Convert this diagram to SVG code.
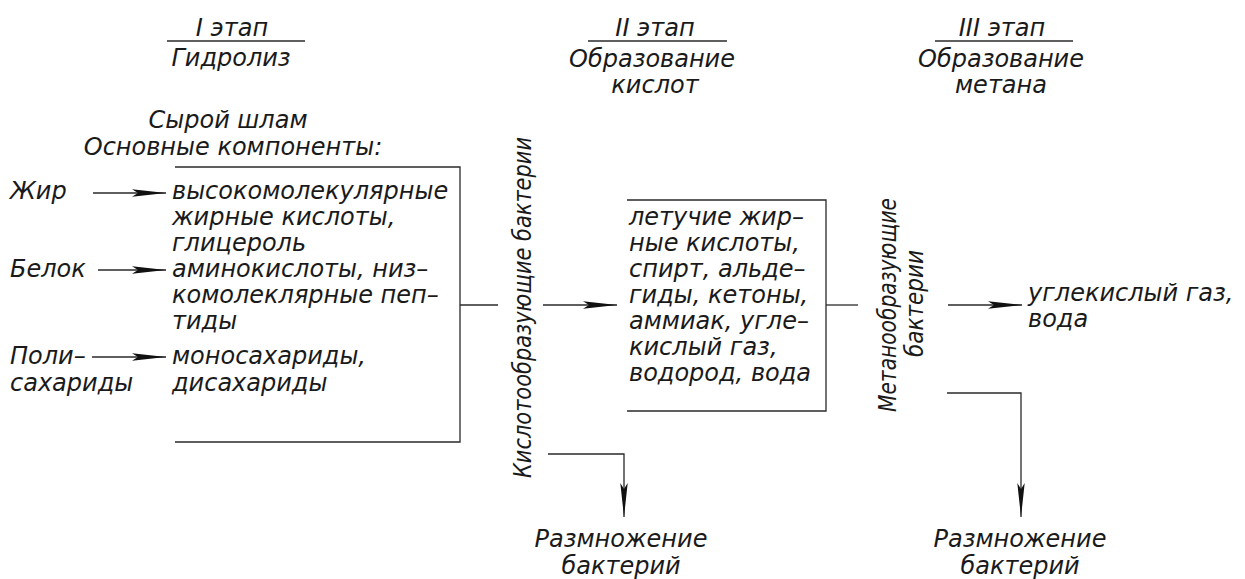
<svg xmlns="http://www.w3.org/2000/svg" width="1245" height="579" viewBox="0 0 1245 579">
<style>
text{font-family:"DejaVu Sans","Liberation Sans",sans-serif;font-style:italic;font-size:24px;fill:#1a1a1a}
.c{text-anchor:middle}
.ln{fill:none;stroke:#2a2a2a;stroke-width:1.3}
</style>
<defs>
<marker id="ah" viewBox="0 0 34 9" refX="34" refY="4.5" markerWidth="34" markerHeight="9" orient="auto" markerUnits="userSpaceOnUse">
<path d="M0,0.8 L34,4.5 L0,8.2 L6,4.5 Z" fill="#111"/>
</marker>
</defs>
<rect width="1245" height="579" fill="#fff"/>

<g id="stage1-header">
<text class="c" x="232" y="36">I этап</text>
<line class="ln" x1="167" y1="41" x2="305" y2="41"/>
<text class="c" x="231" y="66">Гидролиз</text>
</g>
<g id="stage2-header">
<text class="c" x="655" y="36">II этап</text>
<line class="ln" x1="588" y1="41" x2="727" y2="41"/>
<text class="c" x="652" y="67">Образование</text>
<text class="c" x="655" y="93">кислот</text>
</g>
<g id="stage3-header">
<text class="c" x="1002" y="36">III этап</text>
<line class="ln" x1="935" y1="41" x2="1073" y2="41"/>
<text class="c" x="1001" y="67">Образование</text>
<text class="c" x="1001" y="93">метана</text>
</g>

<g id="raw-sludge">
<text class="c" x="228" y="128">Сырой шлам</text>
<text class="c" x="233" y="155">Основные компоненты:</text>
</g>

<g id="inputs">
<text x="10" y="199">Жир</text>
<text x="10" y="277">Белок</text>
<text x="10" y="364">Поли–</text>
<text x="10" y="391">сахариды</text>
</g>

<g id="box1">
<path class="ln" d="M175,167 H460 V442 H175"/>
<text x="172" y="199">высокомолекулярные</text>
<text x="172" y="225">жирные кислоты,</text>
<text x="172" y="251">глицероль</text>
<text x="172" y="277">аминокислоты, низ–</text>
<text x="172" y="303">комолеклярные пеп–</text>
<text x="172" y="329">тиды</text>
<text x="172" y="364">моносахариды,</text>
<text x="172" y="391">дисахариды</text>
</g>

<g id="acid-bacteria">
<text transform="translate(531,478) rotate(-90)" textLength="341" lengthAdjust="spacingAndGlyphs">Кислотообразующие бактерии</text>
</g>

<g id="box2">
<path class="ln" d="M627,200 H826 V411 H627"/>
<text x="629" y="225">летучие жир–</text>
<text x="629" y="251">ные кислоты,</text>
<text x="629" y="277">спирт, альде–</text>
<text x="629" y="303">гиды, кетоны,</text>
<text x="629" y="329">аммиак, угле–</text>
<text x="629" y="355">кислый газ,</text>
<text x="629" y="381">водород, вода</text>
</g>

<g id="methane-bacteria">
<text transform="translate(896,412) rotate(-90)" textLength="214" lengthAdjust="spacingAndGlyphs">Метанообразующие</text>
<text transform="translate(923,357) rotate(-90)" textLength="107" lengthAdjust="spacingAndGlyphs">бактерии</text>
</g>

<g id="products">
<text x="1028" y="301">углекислый газ,</text>
<text x="1028" y="327">вода</text>
</g>

<g id="reproduction1">
<text class="c" x="621" y="547">Размножение</text>
<text class="c" x="621" y="574">бактерий</text>
</g>
<g id="reproduction2">
<text class="c" x="1020" y="547">Размножение</text>
<text class="c" x="1020" y="574">бактерий</text>
</g>

<g id="connectors">
<line class="ln" x1="93" y1="193" x2="166" y2="193" marker-end="url(#ah)"/>
<line class="ln" x1="98" y1="270" x2="166" y2="270" marker-end="url(#ah)"/>
<line class="ln" x1="92" y1="357" x2="166" y2="357" marker-end="url(#ah)"/>
<line class="ln" x1="460" y1="305" x2="498" y2="305"/>
<line class="ln" x1="543" y1="305" x2="617" y2="305" marker-end="url(#ah)"/>
<line class="ln" x1="826" y1="305" x2="858" y2="305"/>
<line class="ln" x1="948" y1="305" x2="1022" y2="305" marker-end="url(#ah)"/>
<path class="ln" d="M548,454 H624 V517" marker-end="url(#ah)"/>
<path class="ln" d="M947,393 H1021 V517" marker-end="url(#ah)"/>
</g>
</svg>
